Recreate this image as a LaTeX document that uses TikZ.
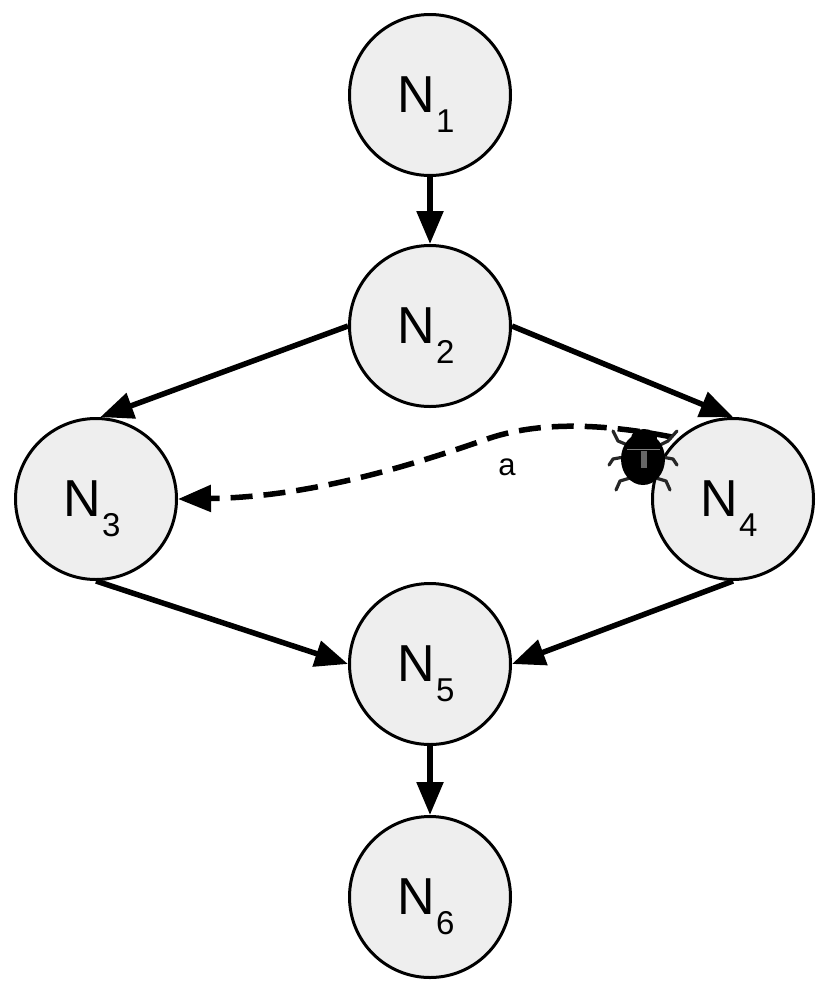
\documentclass[tikz,border=0pt]{standalone}
\usepackage{fontspec}
\setmainfont{Liberation Sans}
\usetikzlibrary{arrows.meta}
\definecolor{nodefill}{HTML}{EEEEEE}
\newcommand{\nodelabel}[1]{\raisebox{-2pt}{\fontsize{52}{52}\selectfont N\kern1pt\smash{\raisebox{-20pt}{\fontsize{33}{33}\selectfont #1}}\kern8pt}}
\tikzset{
  netnode/.style={circle,draw=black,fill=nodefill,line width=3pt,minimum size=161pt,inner sep=0pt},
  link/.style={line width=5.5pt,-{Triangle[length=33pt,width=26pt]}},
  attack/.style={line width=5.5pt,dash pattern=on 22pt off 11pt,-{Triangle[length=33pt,width=26pt]}},
  bugleg/.style={line width=3.2pt,draw=black!85,line cap=round,line join=round}
}
\begin{document}
\begin{tikzpicture}[x=1pt,y=-1pt]
\useasboundingbox (0,0) rectangle (830,994);
\node[netnode] (n1) at (430,95) {\nodelabel{1}};
\node[netnode] (n2) at (430,326) {\nodelabel{2}};
\node[netnode] (n3) at (96,499) {\nodelabel{3}};
\node[netnode] (n4) at (733,499) {\nodelabel{4}};
\node[netnode] (n5) at (430,664) {\nodelabel{5}};
\node[netnode] (n6) at (430,897) {\nodelabel{6}};
\coordinate (bugstart) at (672,437);
\draw[link] (n1.south) -- (n2.north);
\draw[link] (n2.west) -- (n3.87);
\draw[link] (n2.east) -- (n4.north);
\draw[link] (n3.south) -- (n5.west);
\draw[link] (n4.south) -- (n5.east);
\draw[link] (n5.south) -- (n6.north);
\draw[attack] (bugstart) .. controls (610,425) and (545,420) .. (490,438)
  .. controls (410,466) and (310,497) .. (n3.east);
\node[font=\fontsize{31}{31}\selectfont,inner sep=0pt] (lbl) at (507,467) {a};
% bug
\begin{scope}
\draw[bugleg] (613,431) -- (618,441) -- (630,446);
\draw[bugleg] (609,465) -- (613,459) -- (624,457);
\draw[bugleg] (616,490) -- (620,481) -- (630,478);
\draw[bugleg] (677,431) -- (668,441) -- (658,446);
\draw[bugleg] (677,465) -- (673,459) -- (662,457);
\draw[bugleg] (670,490) -- (666,481) -- (656,478);
\fill[black] (643,459) ellipse (22pt and 26pt);
\fill[black] (644,438) ellipse (13pt and 9pt);
\draw[white,line width=0.8pt,opacity=.5] (627,449) -- (660,449);
\fill[white,opacity=.4] (641,451) rectangle (647,468);
\end{scope}
\end{tikzpicture}
\end{document}
